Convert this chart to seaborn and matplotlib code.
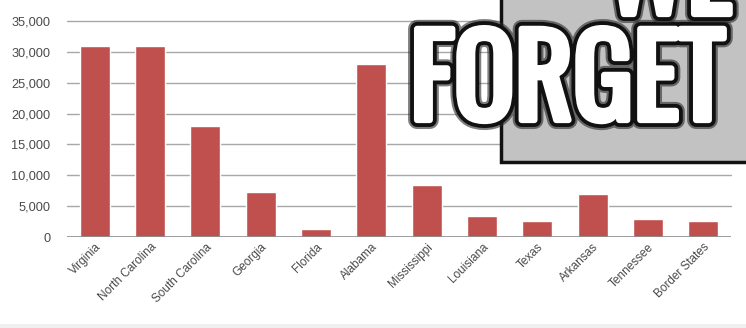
import matplotlib
matplotlib.use("Agg")
import matplotlib.pyplot as plt
import matplotlib.patheffects as pe
from matplotlib.patches import Rectangle
import seaborn as sns
import pandas as pd

states = ["Virginia", "North Carolina", "South Carolina", "Georgia", "Florida",
          "Alabama", "Mississippi", "Louisiana", "Texas", "Arkansas",
          "Tennessee", "Border States"]
values = [31000, 31000, 18000, 7300, 1250, 28000, 8400, 3400, 2600, 6900, 2900, 2600]
yticks = [0, 5000, 10000, 15000, 20000, 25000, 30000, 35000]
ytick_labels = ["0", "5,000", "10,000", "15,000", "20,000", "25,000", "30,000", "35,000"]
banner_main = "FORGET"
banner_top = "WE"

sns.set_theme(style="white")
plt.rcParams["font.family"] = ["Liberation Sans", "DejaVu Sans"]

df = pd.DataFrame({"state": states, "value": values})

W, H = 746, 328
fig = plt.figure(figsize=(W / 100, H / 100), dpi=100)
fig.patch.set_facecolor("white")
ax = fig.add_axes([67 / W, 1 - 237 / H, (731 - 67) / W, (237 - 21) / H])

sns.barplot(data=df, x="state", y="value", color="#C0504D", saturation=1,
            width=0.54, ax=ax, zorder=3)

ax.set_ylim(0, 35000)
ax.set_xlim(-0.5, len(states) - 0.5)
ax.set_yticks(yticks)
ax.set_yticklabels(ytick_labels)
ax.set_xlabel("")
ax.set_ylabel("")
for s in ax.spines.values():
    s.set_visible(False)
for y in yticks[1:]:
    ax.axhline(y, color="#a8a8a8", lw=1.0, zorder=1, clip_on=False)
ax.axhline(0, color="#8c8c8c", lw=1.2, zorder=4)

ax.tick_params(axis="y", length=0, pad=12, labelsize=9.2, labelcolor="#4a4a4a")
ax.tick_params(axis="x", length=0, pad=3, labelsize=8.5, labelcolor="#4a4a4a")
for lbl in ax.get_xticklabels():
    lbl.set_rotation(45)
    lbl.set_ha("right")
    lbl.set_rotation_mode("anchor")

# overlay banner box
fig.patches.append(Rectangle((501 / W, 1 - 162 / H), 260 / W, 170 / H,
                             transform=fig.transFigure, facecolor="#c2c2c2",
                             edgecolor="#111111", lw=2.5, zorder=10))

banner_fonts = ["Oswald", "Anton", "Bebas Neue", "Barlow Condensed", "DejaVu Sans"]
effects = [pe.Stroke(linewidth=13, foreground="#2a2a2a", alpha=0.6),
           pe.Stroke(linewidth=10, foreground="#111111"),
           pe.Stroke(linewidth=4.5, foreground="white"),
           pe.Normal()]
fig.text(410 / W, 1 - 120 / H, banner_main, color="white", fontsize=81,
         fontweight="bold", family=banner_fonts,
         ha="left", va="baseline", path_effects=effects, zorder=12)
fig.text(605 / W, 1 - 14 / H, banner_top, color="white", fontsize=81,
         fontweight="bold", family=banner_fonts,
         ha="left", va="baseline", path_effects=effects, zorder=12)

fig.patches.append(Rectangle((0, 0), 1, 4 / H, transform=fig.transFigure,
                             facecolor="#f0f0f0", edgecolor="none", zorder=0))

fig.savefig("out.png", dpi=100)
